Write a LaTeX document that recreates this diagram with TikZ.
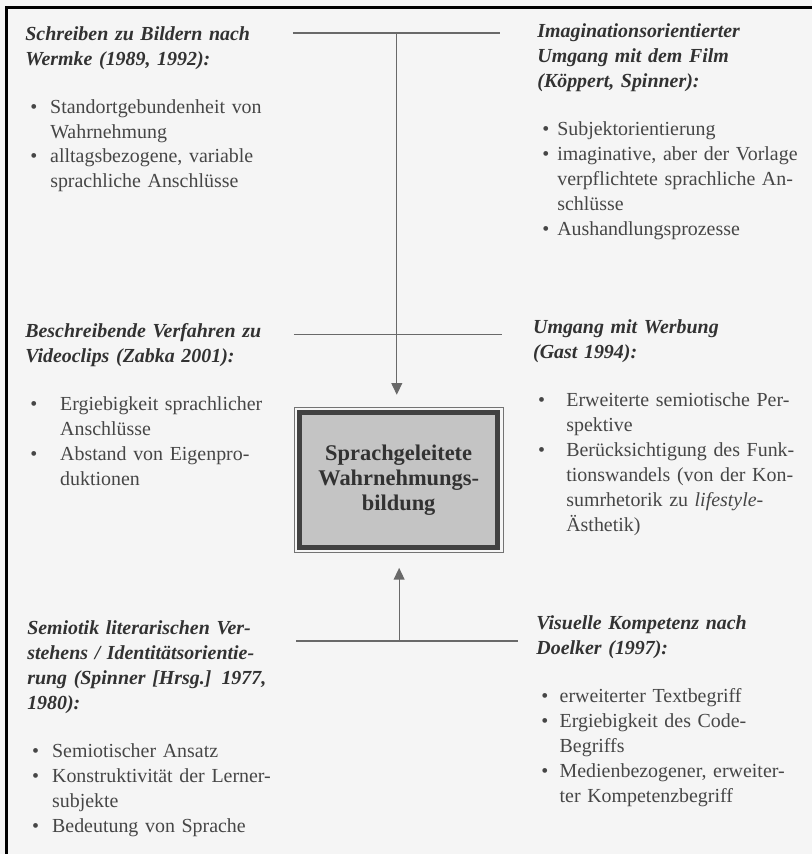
\documentclass[tikz,border=0pt]{standalone}
\usepackage{fontspec}
\setmainfont{Liberation Serif}
\usetikzlibrary{arrows.meta,positioning,calc}
\definecolor{scanbg}{RGB}{245,245,245}
\definecolor{inkdark}{RGB}{50,50,50}
\definecolor{inkbody}{RGB}{70,70,70}
\definecolor{boxfill}{RGB}{196,196,196}
\definecolor{boxframe}{RGB}{65,65,65}
\definecolor{rulegray}{RGB}{105,105,105}

\newcommand{\hd}[1]{{\color{inkdark}\bfseries\itshape #1}\par\vspace{14pt}}
\newcommand{\bitem}[2][15pt]{\par\hangindent=#1\hangafter=1\noindent\makebox[#1][l]{\hspace{3pt}\textbullet}#2}

\begin{document}
\begin{tikzpicture}[
    blk/.style={anchor=base west, text width=5.8cm, align=left, inner sep=0pt,
        font=\fontsize{12}{15}\selectfont, text=inkbody},
    core/.style={draw=boxframe, line width=3pt, fill=boxfill, minimum width=4.19cm,
        minimum height=2.86cm, align=center, text=inkdark,
        font=\fontsize{13.5}{15}\selectfont\bfseries},
    rule/.style={rulegray, line width=0.7pt},
    arr/.style={rulegray, line width=0.7pt, -{Triangle[length=7pt,width=6.5pt]}}
]
\fill[scanbg] (0,0) rectangle (17.19,-18.08);
\useasboundingbox (0,0) rectangle (17.19,-18.08);

% Frame
\draw[line width=1.8pt] (0.14,-18.3) |- (17.4,-0.15);

% Centre box
\node[core] (bildung) at (8.44,-10.16) {Sprachgeleitete\\Wahrnehmungs-\\bildung};
\draw[black!55, thin] ($(bildung.north west)+(-0.06,0.06)$) rectangle ($(bildung.south east)+(0.06,-0.06)$);

% Rules and arrows
\coordinate (topjoin) at (8.40,-0.70);
\coordinate (botjoin) at (8.45,-13.57);
\draw[rule] (6.20,-0.70) -- (10.58,-0.70);
\draw[rule] (6.22,-7.09) -- (10.63,-7.09);
\draw[rule] (6.27,-13.57) -- (10.96,-13.57);
\draw[arr, shorten >=0.32cm] (topjoin) -- (topjoin |- bildung.north);
\draw[arr, shorten >=0.38cm] (botjoin) -- (botjoin |- bildung.south);

% Left column
\node[blk] (wermke) at (0.53,-0.85) {%
\hd{Schreiben zu Bildern nach\newline Wermke (1989, 1992):}
\bitem{Standortgebundenheit von\newline Wahrnehmung}
\bitem{alltagsbezogene, variable\newline sprachliche Anschlüsse}\par};

\node[blk] (zabka) at (0.53,-7.14) {%
\hd{Beschreibende Verfahren zu\newline Videoclips (Zabka 2001):}
\bitem[21pt]{Ergiebigkeit sprachlicher\newline Anschlüsse}
\bitem[21pt]{Abstand von Eigenpro-\newline duktionen}\par};

\node[blk] (spinner) at (0.57,-13.44) {%
\hd{Semiotik literarischen Ver-\newline stehens / Identitätsorientie-\newline rung (Spinner [Hrsg.] 1977,\newline 1980):}
\bitem{Semiotischer Ansatz}
\bitem{Konstruktivität der Lerner-\newline subjekte}
\bitem{Bedeutung von Sprache}\par};

% Right column
\node[blk] (film) at (11.37,-0.80) {%
\hd{Imaginationsorientierter\newline Umgang mit dem Film\newline (Köppert, Spinner):}
\bitem[12pt]{Subjektorientierung}
\bitem[12pt]{imaginative, aber der Vorlage\newline verpflichtete sprachliche An-\newline schlüsse}
\bitem[12pt]{Aushandlungsprozesse}\par};

\node[blk] (werbung) at (11.28,-7.07) {%
\hd{Umgang mit Werbung\newline (Gast 1994):}
\bitem[20pt]{Erweiterte semiotische Per-\newline spektive}
\bitem[20pt]{Berücksichtigung des Funk-\newline tionswandels (von der Kon-\newline sumrhetorik zu \textit{lifestyle}-\newline Ästhetik)}\par};

\node[blk] (doelker) at (11.35,-13.33) {%
\hd{Visuelle Kompetenz nach\newline Doelker (1997):}
\bitem[14pt]{erweiterter Textbegriff}
\bitem[14pt]{Ergiebigkeit des Code-\newline Begriffs}
\bitem[14pt]{Medienbezogener, erweiter-\newline ter Kompetenzbegriff}\par};
\end{tikzpicture}
\end{document}
